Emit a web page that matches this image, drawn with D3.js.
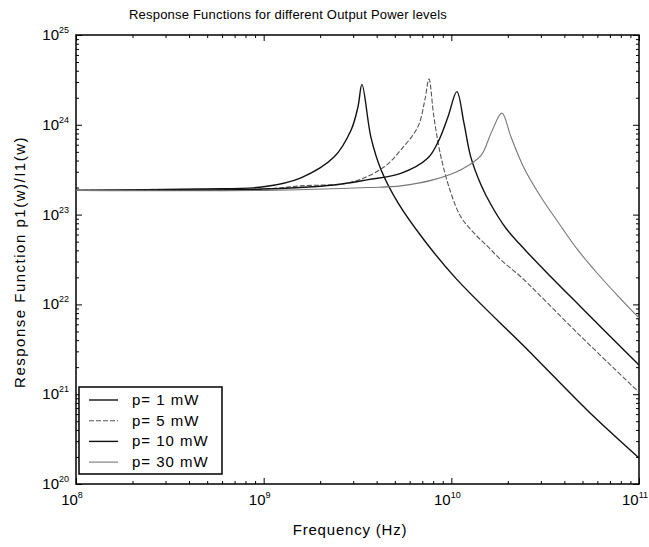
<!DOCTYPE html>
<html>
<head>
<meta charset="utf-8">
<script src="https://cdn.jsdelivr.net/npm/d3@7"></script>
<style>
  body { margin: 0; background: #fff; }
  text { font-family: "Liberation Sans", Arial, sans-serif; fill: #000; }
</style>
</head>
<body>
<div id="graphique"></div>
<script>
// Valeurs (frequence en Hz, reponse)
var freq1 = [1e8, 4.62e8, 1e9, 1.58e9, 2.37e9, 2.92e9, 3.18e9, 3.34e9, 3.73e9, 4.22e9, 5.2e9, 7.14e9, 1.057e10, 2.65e10, 5.35e10, 1e11];
var rep1  = [1.86e23, 1.93e23, 2.04e23, 2.57e23, 4.37e23, 8.7e23, 1.58e24, 2.82e24, 7.24e23, 3.16e23, 1.35e23, 5.25e22, 1.95e22, 2.88e21, 6.5e20, 1.95e20];

var freq5 = [1e8, 1e9, 1.58e9, 2.92e9, 4.38e9, 5.38e9, 6.64e9, 7.23e9, 7.6e9, 8.07e9, 8.81e9, 9.95e9, 1.125e10, 1.32e10, 1.57e10, 1.84e10, 2.35e10, 4.9e10, 1e11];
var rep5  = [1.86e23, 1.93e23, 2.09e23, 2.29e23, 3.39e23, 5.25e23, 9.55e23, 1.9e24, 3.24e24, 1.23e24, 4.37e23, 1.74e23, 9.4e22, 6.24e22, 4.37e22, 3.12e22, 2.02e22, 4.4e21, 1.05e21];

var freq10 = [1e8, 1e9, 2.37e9, 3.6e9, 5.38e9, 7.5e9, 8.59e9, 9.6e9, 1.07e10, 1.167e10, 1.27e10, 1.44e10, 1.63e10, 1.95e10, 2.5e10, 3.4e10, 4.9e10, 1e11];
var rep10  = [1.86e23, 1.93e23, 2.14e23, 2.45e23, 2.88e23, 4.27e23, 6.76e23, 1.23e24, 2.34e24, 1.05e24, 4.37e23, 2.14e23, 1.28e23, 7.1e22, 3.94e22, 2.02e22, 9.36e21, 2.11e21];

var freq30 = [1e8, 1e9, 3.6e9, 5.38e9, 8.07e9, 1.125e10, 1.44e10, 1.63e10, 1.86e10, 2.08e10, 2.44e10, 3.0e10, 3.7e10, 4.72e10, 6.04e10, 7.73e10, 1e11];
var rep30  = [1.86e23, 1.86e23, 2.0e23, 2.09e23, 2.45e23, 3.16e23, 4.57e23, 8.13e23, 1.35e24, 7.3e23, 3.3e23, 1.57e23, 8.28e22, 4.04e22, 2.18e22, 1.24e22, 7.08e21];

var legendes = ["p= 1 mW", "p= 5 mW", "p= 10 mW", "p= 30 mW"];
var xDecades = [8, 9, 10, 11];
var yDecades = [20, 21, 22, 23, 24, 25];

var courbes = [
    {nom: legendes[0], f: freq1, r: rep1, couleur: "#111", largeur: 1.4, tirets: null},
    {nom: legendes[1], f: freq5, r: rep5, couleur: "#555", largeur: 1.1, tirets: "5,2"},
    {nom: legendes[2], f: freq10, r: rep10, couleur: "#111", largeur: 1.4, tirets: null},
    {nom: legendes[3], f: freq30, r: rep30, couleur: "#777", largeur: 1.1, tirets: null}
];

var largeur = 649, hauteur = 547;
var gauche = 76, droite = 639, haut = 35, bas = 484;

var svg = d3.select("#graphique").append("svg").attr("width", largeur).attr("height", hauteur);

var x = d3.scaleLog().domain([1e8, 1e11]).range([gauche, droite]);
var y = d3.scaleLog().domain([1e20, 1e25]).range([bas, haut]);

// Graduations vers l'interieur sur les 4 cotes
function estDecade(t) { return Math.abs(Math.log10(t) - Math.round(Math.log10(t))) < 1e-6; }
var xMineurs = x.ticks().filter(function(t) { return !estDecade(t); });
var yMineurs = y.ticks().filter(function(t) { return !estDecade(t); });
var xMajeurs = xDecades.map(function(e) { return Math.pow(10, e); });
var yMajeurs = yDecades.map(function(e) { return Math.pow(10, e); });

function graduations(axe, valeurs, taille, pos) {
    var g = svg.append("g").attr("transform", pos).call(axe.tickValues(valeurs).tickSize(taille).tickFormat(""));
    g.select(".domain").remove();
    g.selectAll("line").attr("stroke", "#000").attr("stroke-width", 1);
}
graduations(d3.axisBottom(x), xMajeurs, -6, "translate(0," + bas + ")");
graduations(d3.axisBottom(x), xMineurs, -3, "translate(0," + bas + ")");
graduations(d3.axisTop(x), xMajeurs, -6, "translate(0," + haut + ")");
graduations(d3.axisTop(x), xMineurs, -3, "translate(0," + haut + ")");
graduations(d3.axisLeft(y), yMajeurs, -6, "translate(" + gauche + ",0)");
graduations(d3.axisLeft(y), yMineurs, -3, "translate(" + gauche + ",0)");
graduations(d3.axisRight(y), yMajeurs, -6, "translate(" + droite + ",0)");
graduations(d3.axisRight(y), yMineurs, -3, "translate(" + droite + ",0)");

// Cadre
svg.append("rect")
    .attr("x", gauche).attr("y", haut)
    .attr("width", droite - gauche).attr("height", bas - haut)
    .attr("fill", "none").attr("stroke", "#000").attr("stroke-width", 1.5);

// Etiquettes 10^n
xDecades.forEach(function(e) {
    var t = svg.append("text")
        .attr("x", x(Math.pow(10, e)) - 4)
        .attr("y", bas + 21)
        .attr("text-anchor", "middle")
        .style("font-size", "15px");
    t.append("tspan").text("10");
    t.append("tspan").attr("dy", -7).style("font-size", "9px").text(e);
});
yDecades.forEach(function(e) {
    var t = svg.append("text")
        .attr("x", gauche - 7)
        .attr("y", y(Math.pow(10, e)) + 5)
        .attr("text-anchor", "end")
        .style("font-size", "15px");
    t.append("tspan").text("10");
    t.append("tspan").attr("dy", -7).style("font-size", "9px").text(e);
});

// Courbes
var ligne = d3.line()
    .x(function(d) { return x(d[0]); })
    .y(function(d) { return y(d[1]); })
    .curve(d3.curveCatmullRom.alpha(0.5));

courbes.forEach(function(c) {
    var points = c.f.map(function(f, i) { return [f, c.r[i]]; });
    svg.append("path")
        .attr("d", ligne(points))
        .attr("fill", "none")
        .attr("stroke", c.couleur)
        .attr("stroke-width", c.largeur)
        .attr("stroke-dasharray", c.tirets);
});

// Legende
var legX = 79, legY = 387, legL = 143, legH = 87;
svg.append("rect")
    .attr("x", legX).attr("y", legY).attr("width", legL).attr("height", legH)
    .attr("fill", "#fff").attr("stroke", "#000").attr("stroke-width", 1.5);
courbes.forEach(function(c, i) {
    var ly = legY + 13 + i * 20.7;
    svg.append("line")
        .attr("x1", legX + 10).attr("x2", legX + 39)
        .attr("y1", ly).attr("y2", ly)
        .attr("stroke", c.couleur).attr("stroke-width", c.largeur)
        .attr("stroke-dasharray", c.tirets);
    svg.append("text")
        .attr("x", legX + 53).attr("y", ly + 5)
        .style("font-size", "15px")
        .style("letter-spacing", "1px")
        .text(c.nom);
});

// Titres
svg.append("text")
    .attr("x", 288).attr("y", 19)
    .attr("text-anchor", "middle")
    .style("font-size", "13px")
    .style("letter-spacing", "0.2px")
    .text("Response Functions for different Output Power levels");
svg.append("text")
    .attr("x", 350).attr("y", 535)
    .attr("text-anchor", "middle")
    .style("font-size", "15px")
    .style("letter-spacing", "0.8px")
    .text("Frequency (Hz)");
svg.append("text")
    .attr("transform", "translate(25,262) rotate(-90)")
    .attr("text-anchor", "middle")
    .style("font-size", "15px")
    .style("letter-spacing", "1.5px")
    .text("Response Function p1(w)/I1(w)");
</script>
</body>
</html>
